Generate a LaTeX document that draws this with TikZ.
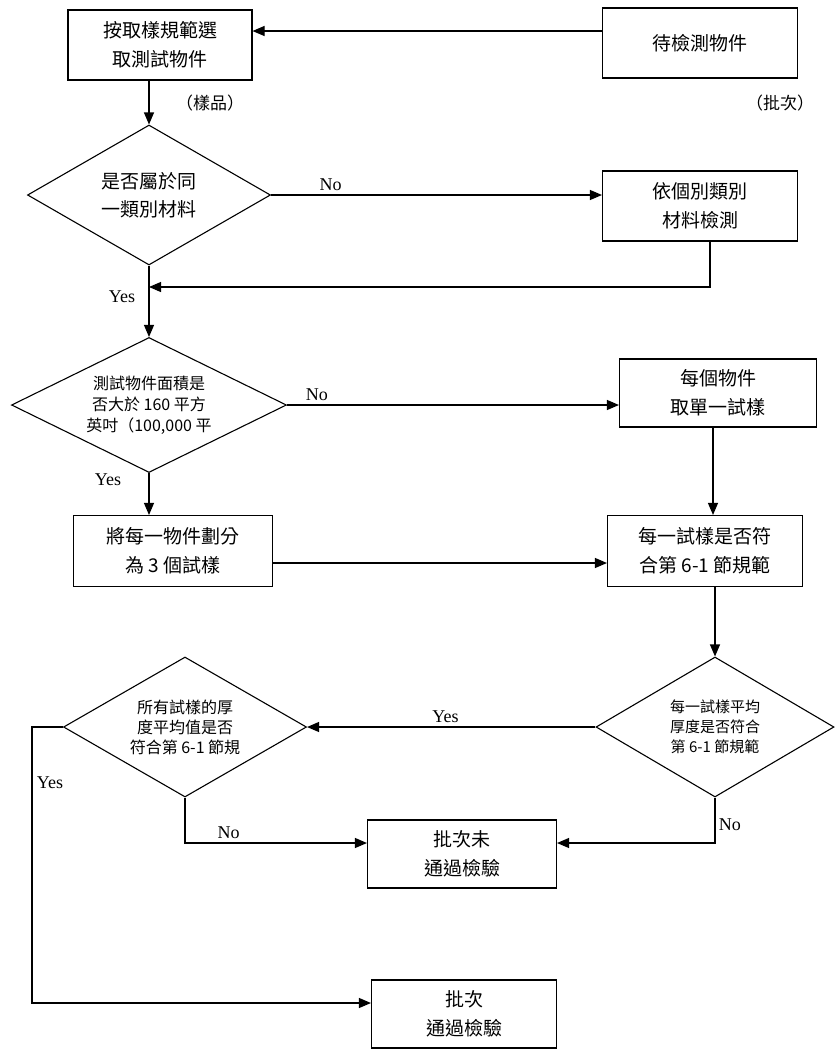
\documentclass[tikz,border=0pt]{standalone}
\usepackage{fontspec}
\setmainfont{Liberation Serif}
\newfontfamily\cjk{Noto Sans CJK TC}
\usetikzlibrary{%
  calc,arrows.meta,shapes.geometric}
\tikzset {>={Triangle[length=12pt,width=10pt]},
  box/.style={draw,line width=1.1pt,align=center,
    font=\cjk\fontsize{19}{29}\selectfont},
  decision/.style={diamond,draw,line width=1.1pt,align=center,
    aspect=2,inner sep=0pt},
  arr/.style={->,line width=1.1pt},
  lbl/.style={font=\fontsize{18}{20}\selectfont}}

\begin{document}
\begin{tikzpicture}[x=1pt,y=-1pt]
\useasboundingbox (0,0) rectangle (835,1050);
% boxes
\node[box,minimum width=184pt,minimum height=70pt] (pick) at (160,45)
  {按取樣規範選\\取測試物件};
\node[box,minimum width=195pt,minimum height=70pt] (lot) at (700,43)
  {待檢測物件};
\node[box,minimum width=195pt,minimum height=70pt] (each) at (700,206)
  {依個別類別\\材料檢測};
\node[box,minimum width=197pt,minimum height=68pt] (single) at (718,393)
  {每個物件\\取單一試樣};
\node[box,minimum width=199pt,minimum height=71pt] (split) at (173,551)
  {將每一物件劃分\\為 3 個試樣};
\node[box,minimum width=195pt,minimum height=71pt] (check) at (705,551)
  {每一試樣是否符\\合第 6-1 節規範};
\node[box,minimum width=189pt,minimum height=68pt] (fail) at (462,854)
  {批次未\\通過檢驗};
\node[box,minimum width=185pt,minimum height=68pt] (pass) at (464,1014)
  {批次\\通過檢驗};
% decisions
\node[decision,minimum width=243pt,minimum height=140pt,
  font=\cjk\fontsize{19}{28}\selectfont] (same) at (149,195)
  {是否屬於同\\一類別材料};
\node[decision,minimum width=275pt,minimum height=135pt,
  font=\cjk\fontsize{16}{21}\selectfont] (area) at (149,405)
  {測試物件面積是\\否大於 160 平方\\英吋（100,000 平};
\node[decision,minimum width=238pt,minimum height=140pt,
  font=\cjk\fontsize{15}{20}\selectfont] (avg) at (715,727)
  {每一試樣平均\\厚度是否符合\\第 6-1 節規範};
\node[decision,minimum width=243pt,minimum height=140pt,
  font=\cjk\fontsize{16}{20}\selectfont] (all) at (185,727)
  {所有試樣的厚\\度平均值是否\\符合第 6-1 節規};
% side notes
\node[font=\cjk\fontsize{17}{20}\selectfont] (sample) at (210,103) {（樣品）};
\node[font=\cjk\fontsize{17}{20}\selectfont] (batch) at (780,103) {（批次）};
\coordinate (back) at (149,287);
\coordinate (yesline) at (32,1003);
% connectors
\draw[arr] ([yshift=12pt]lot.west) -- ([yshift=12pt]lot.west -| pick.east);
\draw[arr] (pick.south -| same.north) -- (same.north);
\draw[arr] (same.east) -- node[lbl,above,pos=0.18] {No} (same.east -| each.west);
\draw[arr] ([xshift=10pt]each.south) |- (back);
\draw[arr] (same.south) -- (area.north);
\node[lbl] at (122,297) {Yes};
\draw[arr] (area.east) -- node[lbl,above,pos=0.09] {No} (area.east -| single.west);
\draw[arr] (area.south) -- (area.south |- split.north);
\node[lbl] at (108,480) {Yes};
\draw[arr] ([yshift=-12pt]split.east) -- ([yshift=-12pt]split.east -| check.west);
\draw[arr] ([xshift=-5pt]single.south) -- ([xshift=-5pt]single.south |- check.north);
\draw[arr] (check.south -| avg.north) -- (avg.north);
\draw[arr] (avg.west) -- node[lbl,above,pos=0.52] {Yes} (all.east);
\draw[arr] (all.west) -| (yesline) -- (yesline -| pass.west);
\node[lbl] at (50,783) {Yes};
\draw[arr] (all.south) |- node[lbl,above,pos=0.62] {No} ([yshift=11pt]fail.west);
\draw[arr] (avg.south) |- node[lbl,right,pos=0.3] {No} ([yshift=11pt]fail.east);
\end{tikzpicture}
\end{document}
